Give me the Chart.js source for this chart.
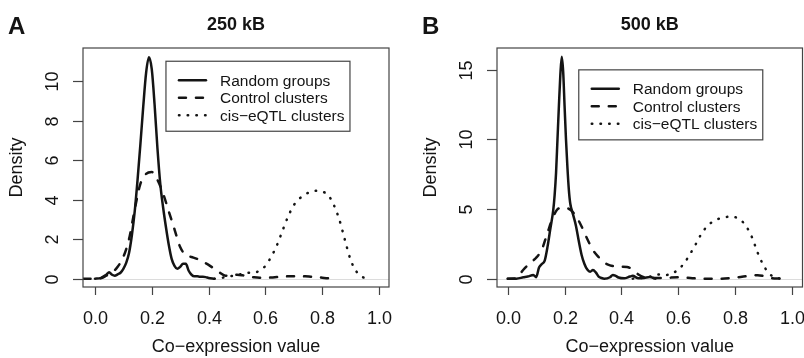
<!DOCTYPE html>
<html>
<head>
<meta charset="utf-8">
<script src="https://cdn.jsdelivr.net/npm/chart.js@4/dist/chart.umd.min.js"></script>
<style>
    body { margin: 0; background: #fff; }
    #wrap { position: relative; width: 804px; height: 358px; }
    canvas { position: absolute; top: 0; }
</style>
</head>
<body>
<div id="wrap">
    <canvas id="chart250" width="402" height="358" style="left:0"></canvas>
    <canvas id="chart500" width="402" height="358" style="left:402px"></canvas>
</div>
<script>
const seriesNames = ['Random groups', 'Control clusters', 'cis\u2212eQTL clusters'];
const xTicks = [0, 0.2, 0.4, 0.6, 0.8, 1.0];
const yTicks250 = [0, 2, 4, 6, 8, 10];
const yTicks500 = [0, 5, 10, 15];

// 250 kB
const randomX250 = [0.00, 0.02, 0.04, 0.05, 0.06, 0.07, 0.08, 0.09, 0.10, 0.11, 0.12, 0.13, 0.14, 0.15, 0.16, 0.17, 0.18, 0.19, 0.20, 0.21, 0.22, 0.23, 0.24, 0.25, 0.26, 0.27, 0.28, 0.29, 0.30, 0.31, 0.32, 0.33, 0.34, 0.35, 0.36, 0.37, 0.38, 0.39, 0.40, 0.42];
const randomY250 = [0, 0.03, 0.2, 0.32, 0.2, 0.15, 0.22, 0.3, 0.5, 0.8, 1.3, 2.2, 3.4, 5.0, 6.8, 8.7, 10.4, 11.2, 10.6, 8.8, 6.6, 4.8, 3.6, 2.6, 1.7, 1.0, 0.65, 0.5, 0.6, 0.75, 0.75, 0.4, 0.2, 0.12, 0.12, 0.1, 0.1, 0.08, 0.04, 0];

const controlX250 = [-0.04, 0.00, 0.02, 0.04, 0.06, 0.08, 0.10, 0.12, 0.14, 0.16, 0.18, 0.20, 0.22, 0.24, 0.26, 0.28, 0.30, 0.32, 0.34, 0.36, 0.38, 0.40, 0.42, 0.44, 0.46, 0.48, 0.50, 0.52, 0.54, 0.56, 0.58, 0.60, 0.62, 0.64, 0.66, 0.68, 0.70, 0.72, 0.74, 0.76, 0.78, 0.80, 0.82, 0.83];
const controlY250 = [0, 0, 0.02, 0.15, 0.3, 0.6, 1.1, 2.0, 3.5, 4.8, 5.3, 5.4, 5.0, 4.3, 3.4, 2.5, 1.6, 1.2, 1.1, 1.0, 0.85, 0.7, 0.5, 0.3, 0.15, 0.18, 0.2, 0.17, 0.12, 0.07, 0.05, 0.05, 0.06, 0.08, 0.1, 0.12, 0.12, 0.11, 0.12, 0.1, 0.08, 0.05, 0.02, 0];

const eqtlX250 = [0.42, 0.44, 0.46, 0.48, 0.50, 0.52, 0.54, 0.56, 0.58, 0.60, 0.62, 0.64, 0.66, 0.68, 0.70, 0.72, 0.74, 0.76, 0.78, 0.80, 0.82, 0.84, 0.86, 0.88, 0.90, 0.92, 0.94, 0.96];
const eqtlY250 = [0, 0.03, 0.08, 0.13, 0.18, 0.25, 0.3, 0.3, 0.42, 0.65, 1.1, 1.67, 2.42, 3.15, 3.72, 4.05, 4.27, 4.39, 4.45, 4.4, 4.25, 3.75, 3.0, 1.95, 0.95, 0.37, 0.1, 0];

// 500 kB
const randomX500 = [0.00, 0.03, 0.055, 0.07, 0.09, 0.10, 0.11, 0.12, 0.13, 0.14, 0.15, 0.16, 0.165, 0.17, 0.175, 0.18, 0.185, 0.19, 0.195, 0.20, 0.205, 0.21, 0.215, 0.22, 0.23, 0.24, 0.25, 0.26, 0.27, 0.28, 0.29, 0.30, 0.31, 0.32, 0.33, 0.34, 0.36, 0.37, 0.38, 0.39, 0.41, 0.43, 0.44, 0.46, 0.48, 0.50, 0.52];
const randomY500 = [0, 0, 0.1, 0.15, 0.27, 0.1, 0.8, 1.05, 1.3, 2.3, 3.6, 4.9, 6.0, 7.6, 10.0, 12.4, 14.6, 15.95, 14.9, 12.4, 10.0, 8.0, 6.4, 5.4, 4.6, 3.8, 2.7, 1.7, 1.05, 0.65, 0.5, 0.62, 0.45, 0.15, 0.05, 0, 0.1, 0.27, 0.2, 0.08, 0.02, 0.15, 0.2, 0.02, 0.05, 0.12, 0];

const controlX500 = [0.00, 0.03, 0.045, 0.06, 0.08, 0.10, 0.12, 0.14, 0.16, 0.18, 0.20, 0.22, 0.24, 0.26, 0.28, 0.30, 0.32, 0.34, 0.36, 0.38, 0.40, 0.42, 0.44, 0.46, 0.48, 0.50, 0.55, 0.60, 0.62, 0.65, 0.70, 0.75, 0.80, 0.83, 0.86, 0.88, 0.90, 0.93, 0.96];
const controlY500 = [0, 0.02, 0.4, 0.75, 1.15, 1.5, 2.1, 3.3, 4.45, 5.05, 5.1, 4.95, 4.5, 3.75, 2.85, 2.05, 1.55, 1.15, 0.95, 0.88, 0.86, 0.84, 0.65, 0.3, 0.1, 0.05, 0.05, 0.1, 0.08, 0.03, 0, 0, 0.08, 0.15, 0.22, 0.25, 0.2, 0.04, 0];

const eqtlX500 = [0.44, 0.46, 0.48, 0.50, 0.52, 0.53, 0.56, 0.58, 0.60, 0.62, 0.64, 0.66, 0.68, 0.70, 0.72, 0.74, 0.76, 0.78, 0.80, 0.82, 0.84, 0.86, 0.88, 0.90, 0.92, 0.94, 0.96];
const eqtlY500 = [0, 0.03, 0.08, 0.14, 0.24, 0.3, 0.27, 0.38, 0.65, 1.07, 1.7, 2.4, 3.15, 3.72, 4.07, 4.28, 4.39, 4.45, 4.42, 4.22, 3.75, 2.98, 1.87, 0.98, 0.38, 0.1, 0];

const FONT = '"Liberation Sans", Arial, Helvetica, sans-serif';
const INK = '#141414';
const FRAME = '#444';

const lineStyles = [
    { borderDash: [] },
    { borderDash: [7, 10] },
    { borderDash: [0.5, 8.2] },
];

function points(xs, ys) {
    return xs.map((x, i) => ({ x, y: ys[i] }));
}

const rFrame = {
    id: 'rFrame',
    beforeDatasetsDraw(chart) {
        const { ctx, chartArea: a, scales: { y } } = chart;
        const y0 = Math.round(y.getPixelForValue(0)) + 0.5;
        ctx.save();
        ctx.strokeStyle = '#dcdcdc';
        ctx.lineWidth = 1;
        ctx.beginPath();
        ctx.moveTo(a.left, y0);
        ctx.lineTo(a.right, y0);
        ctx.stroke();
        ctx.restore();
    },
    afterDraw(chart, args, opts) {
        const { ctx, chartArea: a, scales: { x, y } } = chart;
        ctx.save();

        // box
        ctx.strokeStyle = FRAME;
        ctx.lineWidth = 1.2;
        ctx.strokeRect(a.left, a.top, a.right - a.left, a.bottom - a.top);

        ctx.fillStyle = INK;
        ctx.font = `18px ${FONT}`;

        // x axis
        ctx.textAlign = 'center';
        ctx.textBaseline = 'alphabetic';
        xTicks.forEach((v) => {
            const px = Math.round(x.getPixelForValue(v)) + 0.5;
            ctx.beginPath();
            ctx.moveTo(px, a.bottom);
            ctx.lineTo(px, a.bottom + 8);
            ctx.stroke();
            ctx.fillText(v.toFixed(1), px, a.bottom + 37);
        });
        const midX = (a.left + a.right) / 2;
        ctx.fillText('Co\u2212expression value', midX, a.bottom + 65);

        // y axis
        opts.yTicks.forEach((v) => {
            const py = Math.round(y.getPixelForValue(v)) + 0.5;
            ctx.beginPath();
            ctx.moveTo(a.left, py);
            ctx.lineTo(a.left - 10, py);
            ctx.stroke();
            ctx.save();
            ctx.translate(a.left - 25, py);
            ctx.rotate(-Math.PI / 2);
            ctx.fillText(String(v), 0, 0);
            ctx.restore();
        });
        ctx.save();
        ctx.translate(a.left - 61, (a.top + a.bottom) / 2);
        ctx.rotate(-Math.PI / 2);
        ctx.fillText('Density', 0, 0);
        ctx.restore();

        // title and panel letter
        ctx.font = `bold 18px ${FONT}`;
        ctx.fillText(opts.title, midX, 29.5);
        ctx.font = `bold 24px ${FONT}`;
        ctx.textAlign = 'left';
        ctx.fillText(opts.letter, a.left - 75, 34);

        // legend, anchored at its top-left corner in data units
        const lx = x.getPixelForValue(opts.legendAt[0]);
        const ly = y.getPixelForValue(opts.legendAt[1]);
        ctx.lineWidth = 1.2;
        ctx.strokeStyle = FRAME;
        ctx.strokeRect(lx, ly, 184, 70);
        ctx.font = `15.5px ${FONT}`;
        ctx.textBaseline = 'middle';
        chart.data.datasets.forEach((ds, i) => {
            const ry = ly + 19 + i * 17.5;
            ctx.save();
            ctx.strokeStyle = ds.borderColor;
            ctx.lineWidth = ds.borderWidth;
            ctx.lineCap = 'round';
            ctx.setLineDash(ds.borderDash);
            ctx.beginPath();
            ctx.moveTo(lx + 13, ry);
            ctx.lineTo(lx + 40, ry);
            ctx.stroke();
            ctx.restore();
            ctx.fillText(ds.label, lx + 54, ry + 1);
        });

        ctx.restore();
    },
};

function makeChart(id, series, cfg) {
    const datasets = series.map(([xs, ys], i) => ({
        label: seriesNames[i],
        data: points(xs, ys),
        borderColor: INK,
        borderWidth: 2.5,
        borderCapStyle: 'round',
        borderJoinStyle: 'round',
        borderDash: lineStyles[i].borderDash,
        cubicInterpolationMode: 'monotone',
        pointRadius: 0,
        fill: false,
    }));

    return new Chart(document.getElementById(id), {
        type: 'line',
        data: { datasets },
        plugins: [rFrame],
        options: {
            responsive: false,
            animation: false,
            devicePixelRatio: 1,
            layout: { padding: cfg.padding },
            scales: {
                x: { type: 'linear', min: cfg.xMin, max: cfg.xMax, display: false },
                y: { type: 'linear', min: cfg.yMin, max: cfg.yMax, display: false },
            },
            plugins: {
                legend: { display: false },
                tooltip: { enabled: false },
                rFrame: {
                    title: cfg.title,
                    letter: cfg.letter,
                    yTicks: cfg.yTicks,
                    legendAt: cfg.legendAt,
                },
            },
        },
    });
}

makeChart('chart250', [
    [randomX250, randomY250],
    [controlX250, controlY250],
    [eqtlX250, eqtlY250],
], {
    title: '250 kB',
    letter: 'A',
    yTicks: yTicks250,
    legendAt: [0.25, 11],
    padding: { left: 83, right: 13, top: 48, bottom: 71 },
    xMin: -0.042, xMax: 1.035,
    yMin: -0.42, yMax: 11.67,
});

makeChart('chart500', [
    [randomX500, randomY500],
    [controlX500, controlY500],
    [eqtlX500, eqtlY500],
], {
    title: '500 kB',
    letter: 'B',
    yTicks: yTicks500,
    legendAt: [0.25, 15],
    padding: { left: 95, right: 1.5, top: 48, bottom: 71 },
    xMin: -0.038, xMax: 1.038,
    yMin: -0.6, yMax: 16.57,
});
</script>
</body>
</html>
